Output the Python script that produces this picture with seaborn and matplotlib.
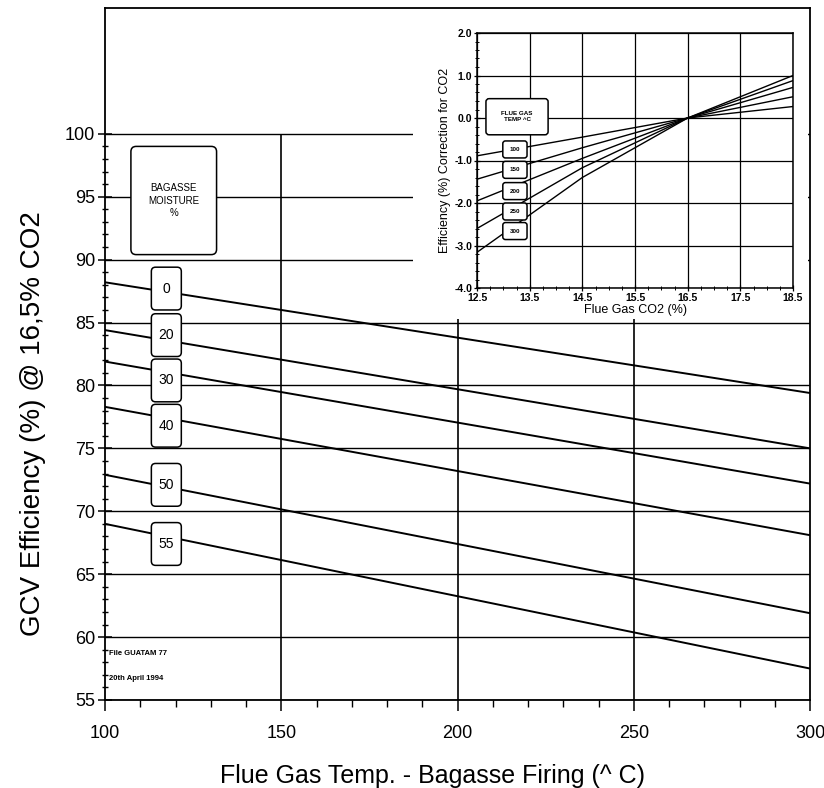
import matplotlib
matplotlib.use('Agg')
import matplotlib.pyplot as plt
import seaborn as sns
import numpy as np
import pandas as pd
from matplotlib.patches import FancyBboxPatch, Rectangle
from matplotlib.ticker import MultipleLocator, FixedLocator, FormatStrFormatter

# main chart: GCV efficiency @16.5% CO2 vs flue gas temperature, one line per bagasse moisture (%)
moisture = [0, 20, 30, 40, 50, 55]
flue_temp = [100, 300]
eff_at_100 = [88.2, 84.4, 81.9, 78.3, 72.9, 69.0]
eff_at_300 = [79.4, 75.0, 72.2, 68.1, 61.9, 57.5]

# inset: efficiency correction for CO2, one line per flue gas temp (^C)
co2 = [12.5, 14.5, 16.5, 18.5]
inset_temps = [100, 150, 200, 250, 300]
corr_100 = [-0.89, -0.45, 0.0, 0.27]
corr_150 = [-1.44, -0.70, 0.0, 0.50]
corr_200 = [-1.95, -0.95, 0.0, 0.72]
corr_250 = [-2.60, -1.17, 0.0, 0.88]
corr_300 = [-3.16, -1.40, 0.0, 1.00]

rows = []
for m, a, b in zip(moisture, eff_at_100, eff_at_300):
    rows.append({'moisture': m, 'temp': flue_temp[0], 'eff': a})
    rows.append({'moisture': m, 'temp': flue_temp[1], 'eff': b})
main_df = pd.DataFrame(rows)

irows = []
for t, vals in zip(inset_temps, [corr_100, corr_150, corr_200, corr_250, corr_300]):
    for c, v in zip(co2, vals):
        irows.append({'temp': t, 'co2': c, 'corr': v})
inset_df = pd.DataFrame(irows)

sns.set_style('white')
plt.rcParams['font.family'] = ['Liberation Sans', 'DejaVu Sans']
plt.rcParams['text.color'] = 'black'
plt.rcParams['axes.labelcolor'] = 'black'
plt.rcParams['xtick.color'] = 'black'
plt.rcParams['ytick.color'] = 'black'

W, H = 824, 788
fig = plt.figure(figsize=(W / 100, H / 100), dpi=100)


def fx(px):
    return px / W


def fy(py):
    return (H - py) / H


ax = fig.add_axes([fx(105), fy(700), fx(810) - fx(105), fy(8) - fy(700)])
ax.set_xlim(100, 300)
ax.set_ylim(55, 110)

# grid lines
for v in range(55, 101, 5):
    ax.axhline(v, color='black', lw=1.0, zorder=1)
ax.vlines([150, 200, 250], 55, 100, color='black', lw=1.2, zorder=1)

sns.lineplot(data=main_df, x='temp', y='eff', units='moisture', estimator=None,
             color='black', lw=1.4, ax=ax, legend=False, zorder=2)

for s in ax.spines.values():
    s.set_color('black')
    s.set_linewidth(1.3)

ax.yaxis.set_major_locator(FixedLocator(list(range(55, 101, 5))))
ax.yaxis.set_minor_locator(FixedLocator(list(range(55, 101))))
ax.xaxis.set_major_locator(FixedLocator([100, 150, 200, 250, 300]))
ax.xaxis.set_minor_locator(MultipleLocator(10))
ax.tick_params(left=True, bottom=True, which='both')
ax.tick_params(axis='y', which='major', direction='inout', length=10, width=1.1, labelsize=13, pad=2)
ax.tick_params(axis='y', which='minor', direction='inout', length=5, width=1.0)
ax.tick_params(axis='x', which='major', direction='out', length=8, width=1.1, labelsize=13, pad=10)
ax.tick_params(axis='x', which='minor', direction='out', length=5, width=1.0)
ax.set_xlabel('Flue Gas Temp. - Bagasse Firing (^ C)', fontsize=18)
ax.set_ylabel('GCV Efficiency (%) @ 16,5% CO2', fontsize=20)
ax.xaxis.set_label_coords(0.464, -0.093)
ax.yaxis.set_label_coords(-0.084, 0.40)

# aspect between data units per pixel in y and x (for rounded boxes)
main_aspect = (55 / 692) / (200 / 705)


def label_box(a, xc, yc, w, h, text, fs, aspect, rs, weight='normal', lw=1.1):
    p = FancyBboxPatch((xc - w / 2, yc - h / 2), w, h,
                       boxstyle=f'round,pad=0,rounding_size={rs}',
                       mutation_aspect=aspect, fc='white', ec='black', lw=lw, zorder=4)
    a.add_patch(p)
    a.text(xc, yc, text, ha='center', va='center', fontsize=fs, fontweight=weight,
           zorder=5, linespacing=1.3)


# moisture labels on the lines
box_y = [87.7, 84.0, 80.4, 76.8, 72.1, 67.4]
for m, yc in zip(moisture, box_y):
    label_box(ax, 117.4, yc, 8.5, 3.4, str(m), 10, main_aspect, 1.2)

label_box(ax, 119.5, 94.7, 24.3, 8.6, 'BAGASSE\nMOISTURE\n%', 7, main_aspect, 1.5)

ax.text(101.2, 58.7, 'File GUATAM 77', fontsize=5.5, fontweight='bold', va='center')
ax.text(101.2, 56.7, '20th April 1994', fontsize=5.5, fontweight='bold', va='center')

# white panel under the inset
ax.add_patch(Rectangle((fx(413), fy(319)), fx(808) - fx(413), fy(10) - fy(319),
                       transform=fig.transFigure, fc='white', ec='none', zorder=3))

# inset chart
ins = fig.add_axes([fx(477), fy(288), fx(793) - fx(477), fy(33) - fy(288)])
ins.set_zorder(5)
ins.set_xlim(12.5, 18.5)
ins.set_ylim(-4, 2)
ins.grid(True, color='black', lw=0.9)
sns.lineplot(data=inset_df, x='co2', y='corr', units='temp', estimator=None,
             color='black', lw=1.0, ax=ins, legend=False, zorder=2)
for s in ins.spines.values():
    s.set_color('black')
    s.set_linewidth(1.1)
ins.xaxis.set_major_locator(FixedLocator([12.5, 13.5, 14.5, 15.5, 16.5, 17.5, 18.5]))
ins.xaxis.set_minor_locator(MultipleLocator(0.25))
ins.yaxis.set_major_locator(MultipleLocator(1.0))
ins.yaxis.set_minor_locator(MultipleLocator(0.2))
ins.yaxis.set_major_formatter(FormatStrFormatter('%.1f'))
ins.tick_params(left=True, bottom=True, which='both')
ins.tick_params(which='major', direction='inout', length=5, width=0.9, labelsize=7.5, pad=1)
ins.tick_params(which='minor', direction='inout', length=3, width=0.7)
for lab in ins.get_xticklabels() + ins.get_yticklabels():
    lab.set_fontweight('bold')
ins.set_xlabel('Flue Gas CO2 (%)', fontsize=9, labelpad=1)
ins.set_ylabel('Efficiency (%) Correction for CO2', fontsize=9, labelpad=2)

ins_aspect = (6 / 255) / (6 / 316)
label_box(ins, 13.26, 0.03, 1.18, 0.85, 'FLUE GAS\nTEMP ^C', 4.5, ins_aspect, 0.06, weight='bold')
tbox_y = [-0.74, -1.22, -1.72, -2.2, -2.66]
for t, yc in zip(inset_temps, tbox_y):
    label_box(ins, 13.22, yc, 0.46, 0.4, str(t), 4.5, ins_aspect, 0.05, weight='bold')

fig.savefig('out.png', dpi=100)
